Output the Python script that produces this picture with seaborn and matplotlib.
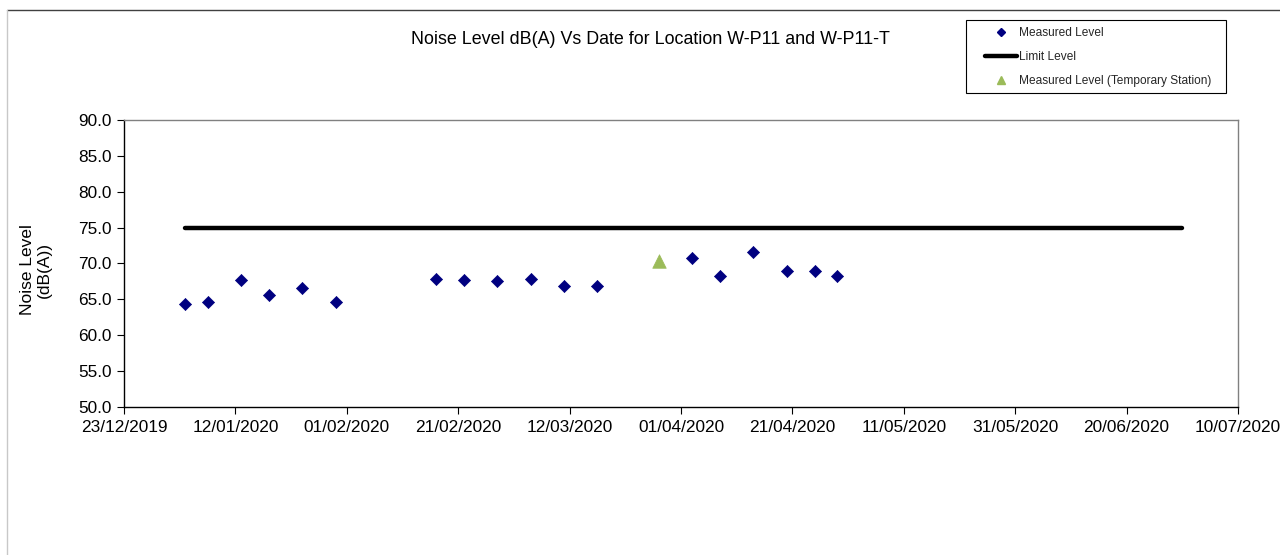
import matplotlib

matplotlib.use("Agg")
import matplotlib.dates as mdates
import matplotlib.pyplot as plt
import pandas as pd
import seaborn as sns
from matplotlib.lines import Line2D
from matplotlib.patches import Rectangle

# measured noise levels, W-P11
measured_dates = [
    "2020-01-03", "2020-01-07", "2020-01-13", "2020-01-18", "2020-01-24", "2020-01-30",
    "2020-02-17", "2020-02-22", "2020-02-28", "2020-03-05", "2020-03-11", "2020-03-17",
    "2020-04-03", "2020-04-08", "2020-04-14", "2020-04-20", "2020-04-25", "2020-04-29",
]
measured_levels = [
    64.3, 64.7, 67.7, 65.6, 66.6, 64.7,
    67.9, 67.7, 67.5, 67.9, 66.9, 66.8,
    70.7, 68.3, 71.6, 68.9, 68.9, 68.2,
]

# temporary station W-P11-T
temp_dates = ["2020-03-28"]
temp_levels = [70.3]

# limit level
limit_dates = ["2020-01-03", "2020-06-30"]
limit_levels = [75.0, 75.0]

x_start = "2019-12-23"
x_end = "2020-07-10"

sns.set_theme(style="white")
plt.rcParams["font.family"] = ["Liberation Sans", "DejaVu Sans"]

measured_df = pd.DataFrame({"date": pd.to_datetime(measured_dates), "level": measured_levels})
temp_df = pd.DataFrame({"date": pd.to_datetime(temp_dates), "level": temp_levels})
limit_df = pd.DataFrame({"date": pd.to_datetime(limit_dates), "level": limit_levels})

fig = plt.figure(figsize=(12.8, 5.55), dpi=100)
ax = fig.add_axes([124 / 1280, 1 - 407 / 555, (1238 - 124) / 1280, (407 - 120) / 555])

sns.lineplot(data=limit_df, x="date", y="level", ax=ax, color="black", linewidth=3.2,
             label="Limit Level", legend=False)
sns.scatterplot(data=measured_df, x="date", y="level", ax=ax, marker="D", s=38,
                color="#000080", edgecolor="#000080", linewidth=0.5, legend=False)
sns.scatterplot(data=temp_df, x="date", y="level", ax=ax, marker="^", s=95,
                color="#9BBB59", edgecolor="#9BBB59", linewidth=0.5, legend=False)

ax.set_xlim(pd.Timestamp(x_start), pd.Timestamp(x_end))
ax.set_ylim(50, 90)
ax.set_xticks(pd.date_range(x_start, x_end, freq="20D"))
ax.xaxis.set_major_formatter(mdates.DateFormatter("%d/%m/%Y"))
ax.set_yticks(range(50, 91, 5))
ax.yaxis.set_major_formatter(matplotlib.ticker.FormatStrFormatter("%.1f"))
ax.tick_params(axis="both", which="major", direction="out", length=5, width=0.8,
               color="black", labelsize=12.4, labelcolor="black", pad=4,
               bottom=True, left=True)
ax.set_xlabel("")
ax.set_ylabel("")

for side in ["left", "bottom"]:
    ax.spines[side].set_color("black")
    ax.spines[side].set_linewidth(1.0)
for side in ["top", "right"]:
    ax.spines[side].set_color("#808080")
    ax.spines[side].set_linewidth(1.0)

fig.text(650 / 1280, 1 - 40 / 555, "Noise Level dB(A) Vs Date for Location W-P11 and W-P11-T",
         ha="center", va="center", fontsize=12.85, color="black")
fig.text(36 / 1280, 1 - 270 / 555, "Noise Level\n(dB(A))", rotation=90,
         ha="center", va="center", fontsize=12.5, color="black", linespacing=1.2)

# legend
handles = [
    Line2D([], [], linestyle="none", marker="D", markersize=4.2, color="#000080"),
    Line2D([], [], color="black", linewidth=3.2),
    Line2D([], [], linestyle="none", marker="^", markersize=5.5, color="#9BBB59"),
]
labels = ["Measured Level", "Limit Level", "Measured Level (Temporary Station)"]
fig.legend(handles, labels, loc="upper left", bbox_to_anchor=(985 / 1280, 1 - 27 / 555),
           frameon=False, fontsize=8.6, borderpad=0, handlelength=2.7, handletextpad=0.15,
           labelspacing=1.0, borderaxespad=0)
fig.patches.append(Rectangle((966 / 1280, 1 - 93 / 555), 260 / 1280, 73 / 555,
                             transform=fig.transFigure, fill=False, edgecolor="black",
                             linewidth=0.8))

# chart-area border
fig.add_artist(Line2D([7 / 1280, 1], [1 - 10 / 555, 1 - 10 / 555], transform=fig.transFigure,
                      color="#404040", linewidth=1.0))
fig.add_artist(Line2D([7 / 1280, 7 / 1280], [1 - 10 / 555, 0], transform=fig.transFigure,
                      color="#c8c8c8", linewidth=1.0))

fig.savefig("out.png", dpi=100, facecolor="white")
